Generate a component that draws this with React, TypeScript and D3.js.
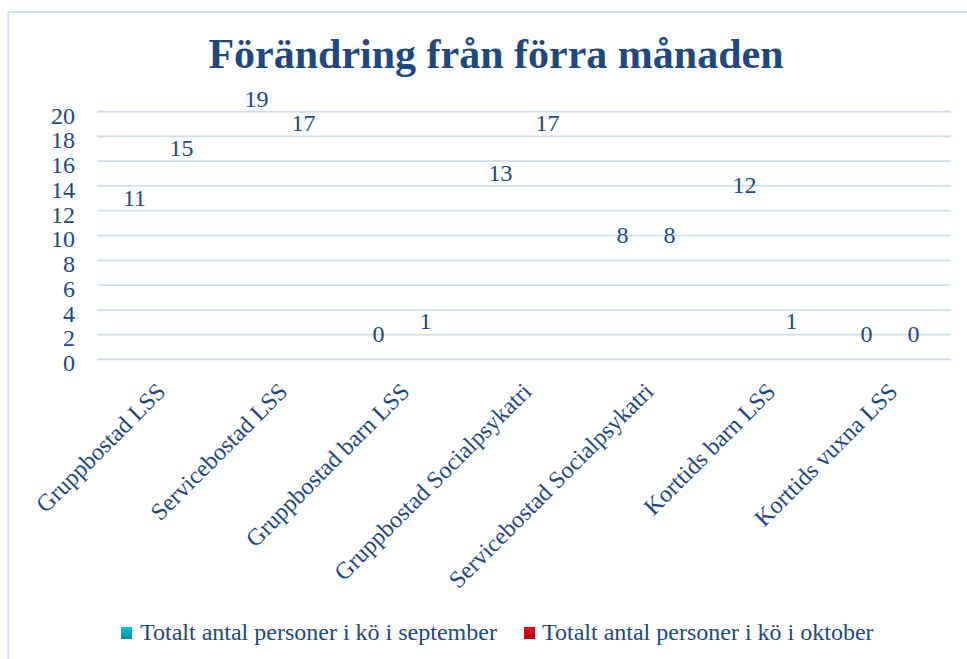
import React from "react";
import * as d3 from "d3";

const categories = [
  "Gruppbostad LSS",
  "Servicebostad LSS",
  "Gruppbostad barn LSS",
  "Gruppbostad Socialpsykatri",
  "Servicebostad Socialpsykatri",
  "Korttids barn LSS",
  "Korttids vuxna LSS",
];
const september = [11, 19, 0, 13, 8, 12, 0];
const oktober = [15, 17, 1, 17, 8, 1, 0];
const seriesNames = [
  "Totalt antal personer i kö i september",
  "Totalt antal personer i kö i oktober",
];
const yTicks = [0, 2, 4, 6, 8, 10, 12, 14, 16, 18, 20];
const title = "Förändring från förra månaden";

const W = 967;
const H = 659;
const FONT = "'Liberation Serif', 'Times New Roman', serif";
const TEXT = "#1F497D";

export default function App() {
  const plot = { left: 97, right: 951, top: 111.7, bottom: 359.3 };
  const x = d3
    .scaleBand<string>()
    .domain(categories)
    .range([plot.left, plot.right]);
  const y = d3.scaleLinear().domain([0, 20]).range([plot.bottom, plot.top]);
  const sub = d3
    .scaleBand<number>()
    .domain([0, 1])
    .range([0, x.bandwidth()])
    .paddingInner(0)
    .paddingOuter(0.3);
  const series = [september, oktober];

  return (
    <div style={{ position: "fixed", left: 0, top: 0 }}>
      <svg width={W} height={H} style={{ display: "block", background: "#fff" }}>
        <defs>
          <linearGradient id="gSep" x1="0" y1="0" x2="0" y2="1">
            <stop offset="0" stopColor="#00c8e0" />
            <stop offset="1" stopColor="#00899a" />
          </linearGradient>
          <linearGradient id="gOkt" x1="0" y1="0" x2="0" y2="1">
            <stop offset="0" stopColor="#f2001e" />
            <stop offset="1" stopColor="#b40018" />
          </linearGradient>
        </defs>
        <rect x={8.3} y={12} width={W + 20} height={H + 20} fill="#fff" stroke="#d6e2f3" strokeWidth={2} />
        <text
          x={496}
          y={68}
          textAnchor="middle"
          fontFamily={FONT}
          fontWeight="bold"
          fontSize={42}
          fill={TEXT}
        >
          {title}
        </text>
        {yTicks.map((t) => (
          <g key={t}>
            <line
              x1={plot.left}
              x2={plot.right}
              y1={y(t)}
              y2={y(t)}
              stroke="#d0dcf0"
              strokeWidth={1.75}
            />
            <text
              x={75}
              y={y(t) + 11.8}
              textAnchor="end"
              fontFamily={FONT}
              fontSize={24}
              fill={TEXT}
            >
              {t}
            </text>
          </g>
        ))}
        {series.map((vals, si) =>
          vals.map((v, i) => {
            const cx = (x(categories[i]) as number) + x.bandwidth() / 2;
            const bx = cx + (si === 0 ? -23.5 : 23.5);
            return (
              <g key={`${si}-${i}`}>
                <rect
                  x={bx - sub.bandwidth() / 2}
                  y={y(v)}
                  width={sub.bandwidth()}
                  height={y(0) - y(v)}
                  fill="none"
                  fillOpacity={0}
                />
                <text
                  x={bx}
                  y={y(v) - 17.5}
                  textAnchor="middle"
                  fontFamily={FONT}
                  fontSize={24}
                  fill={TEXT}
                >
                  {v}
                </text>
              </g>
            );
          })
        )}
        {categories.map((c) => {
          const cx = (x(c) as number) + x.bandwidth() / 2;
          return (
            <text
              key={c}
              transform={`translate(${cx + 3},${387}) rotate(-45)`}
              textAnchor="end"
              dy="0.35em"
              fontFamily={FONT}
              fontSize={24}
              fill={TEXT}
            >
              {c}
            </text>
          );
        })}
        <g>
          <rect x={121} y={627} width={11} height={12} fill="url(#gSep)" />
          <text x={140} y={640} fontFamily={FONT} fontSize={24} fill={TEXT}>
            {seriesNames[0]}
          </text>
          <rect x={524} y={627} width={11} height={12} fill="url(#gOkt)" />
          <text x={542} y={640} fontFamily={FONT} fontSize={24} fill={TEXT}>
            {seriesNames[1]}
          </text>
        </g>
      </svg>
    </div>
  );
}
